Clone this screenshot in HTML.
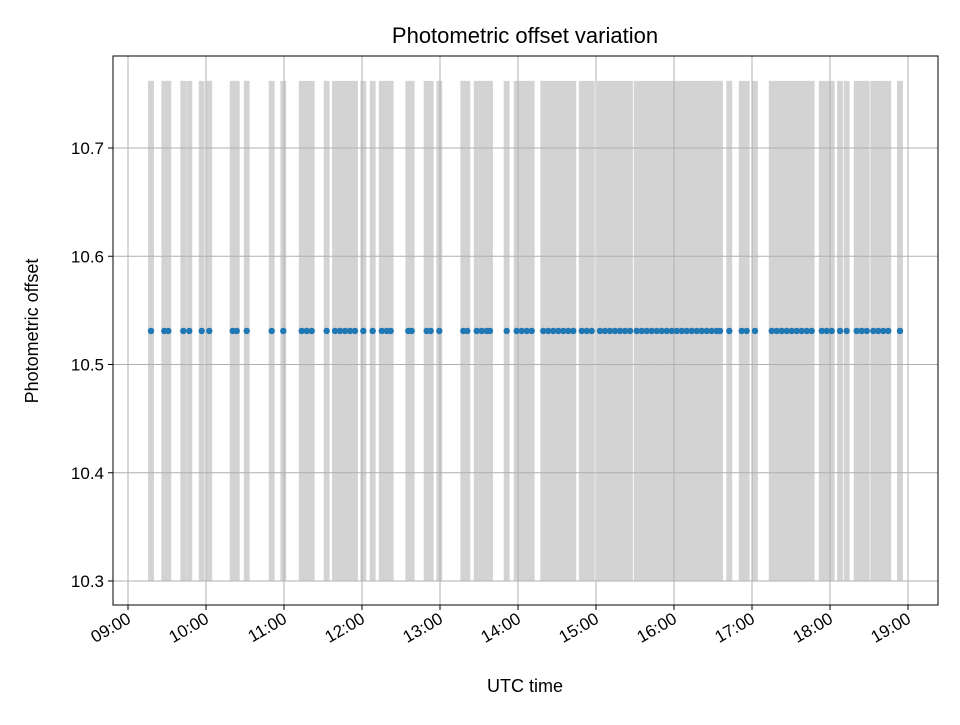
<!DOCTYPE html>
<html><head><meta charset="utf-8"><style>
body{margin:0;background:#fff;}
svg text{font-family:"Liberation Sans",sans-serif;fill:#000;}
</style></head><body>
<svg id="chart" width="960" height="720" xmlns="http://www.w3.org/2000/svg">
<rect x="0" y="0" width="960" height="720" fill="#fff"/>
<g id="bars"></g>
<g id="grid"></g>
<g id="points"></g>
<rect x="113" y="56" width="825" height="549" fill="none" stroke="#000" stroke-width="1"/>
<g id="xticks"></g>
<g id="yticks"></g>
<text x="525" y="43" font-size="22" text-anchor="middle">Photometric offset variation</text>
<text x="525" y="692" font-size="18" text-anchor="middle">UTC time</text>
<text x="38" y="331" font-size="18" text-anchor="middle" transform="rotate(-90 38 331)">Photometric offset</text>
</svg>
<script>
const times=[9.295,9.465,9.517,9.709,9.786,9.945,10.042,10.342,10.394,10.522,10.842,10.991,11.227,11.291,11.355,11.547,11.654,11.718,11.782,11.846,11.910,12.017,12.137,12.253,12.317,12.368,12.594,12.637,12.829,12.881,12.991,13.299,13.350,13.471,13.535,13.599,13.641,13.855,13.983,14.047,14.112,14.176,14.324,14.388,14.453,14.517,14.581,14.645,14.709,14.817,14.881,14.945,15.051,15.115,15.179,15.244,15.308,15.372,15.436,15.522,15.586,15.650,15.714,15.778,15.842,15.906,15.971,16.035,16.099,16.163,16.227,16.291,16.355,16.419,16.483,16.547,16.590,16.709,16.868,16.932,17.038,17.253,17.317,17.381,17.445,17.509,17.573,17.637,17.701,17.765,17.894,17.958,18.022,18.128,18.214,18.342,18.406,18.471,18.555,18.619,18.683,18.747,18.897];
const offsets=times.map(()=>10.531);
const xTickHours=[9,10,11,12,13,14,15,16,17,18,19];
const xTickLabels=["09:00","10:00","11:00","12:00","13:00","14:00","15:00","16:00","17:00","18:00","19:00"];
const yTickValues=[10.3,10.4,10.5,10.6,10.7];
const yTickLabels=["10.3","10.4","10.5","10.6","10.7"];
const barBottom=10.3, barTop=10.762, barWidthH=0.075;
const NS="http://www.w3.org/2000/svg";
const xs=h=>128+(h-9)*78;
const ys=v=>581-(v-10.3)*1082.5;
function mk(tag,attrs,parent){const e=document.createElementNS(NS,tag);for(const k in attrs)e.setAttribute(k,attrs[k]);parent.appendChild(e);return e;}
const gB=document.getElementById('bars'),gG=document.getElementById('grid'),gP=document.getElementById('points'),gX=document.getElementById('xticks'),gY=document.getElementById('yticks');
times.forEach((t,i)=>{
  const r=mk('rect',{x:xs(t-barWidthH/2),y:ys(barTop),width:barWidthH*78,height:ys(barBottom)-ys(barTop),fill:'#d3d3d3'},gB);
  
  
});
xTickHours.forEach((h,i)=>{
  const x=xs(h);
  const g=mk('line',{x1:x,x2:x,y1:56,y2:605,stroke:'#b0b0b0','stroke-width':1},gG);
  
  
  const t=mk('line',{x1:x,x2:x,y1:605,y2:610,stroke:'#000','stroke-width':1},gX);
  
  
  const l=mk('text',{x:x+4,y:622,'font-size':17,'text-anchor':'end',transform:`rotate(-30 ${x+4} 622)`},gX);
  l.textContent=xTickLabels[i];
  
  
});
yTickValues.forEach((v,i)=>{
  const y=ys(v);
  const g=mk('line',{x1:113,x2:938,y1:y,y2:y,stroke:'#b0b0b0','stroke-width':1},gG);
  
  
  const t=mk('line',{x1:108,x2:113,y1:y,y2:y,stroke:'#000','stroke-width':1},gY);
  
  
  const l=mk('text',{x:104,y:y+6,'font-size':17,'text-anchor':'end'},gY);
  l.textContent=yTickLabels[i];
  
  
});
times.forEach((t,i)=>{
  const c=mk('circle',{cx:xs(t),cy:ys(offsets[i]),r:3.2,fill:'#1f77b4'},gP);
  
  
});
</script>
</body></html>
